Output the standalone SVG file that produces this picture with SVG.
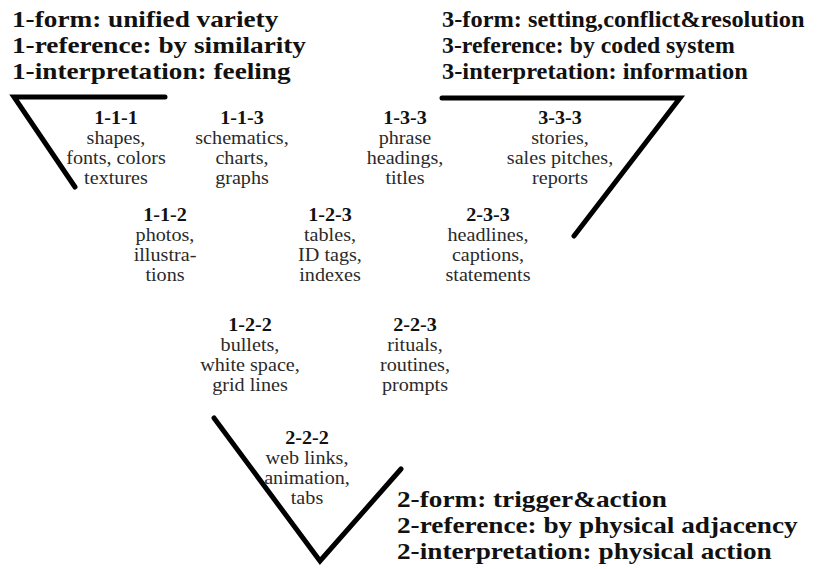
<svg xmlns="http://www.w3.org/2000/svg" width="820" height="569" viewBox="0 0 820 569">
  <style>
    .title { font-family: "Liberation Serif", serif; font-weight: bold; font-size: 23px; fill: #111; }
    .code { font-family: "Liberation Serif", serif; font-weight: bold; font-size: 18px; fill: #111; text-anchor: middle; }
    .body { font-family: "Liberation Serif", serif; font-size: 18px; fill: #2a2a2a; text-anchor: middle; }
    .edge { fill: none; stroke: #000; stroke-width: 5; stroke-linecap: round; stroke-linejoin: miter; }
  </style>
  <rect width="820" height="569" fill="#fff"/>

  <!-- corner strokes -->
  <g id="connectors">
    <polyline class="edge" points="165,97 14,97 75,187"/>
    <polyline class="edge" points="442,98 680,98 574,236"/>
    <polyline class="edge" points="214,418 320,561 401,469"/>
  </g>

  <!-- corner captions, set in a slightly widened serif -->
  <g id="corner-1" transform="translate(12,0) scale(1.185,1)">
    <text class="title" x="0" y="27">1-form: unified variety</text>
    <text class="title" x="0" y="53">1-reference: by similarity</text>
    <text class="title" x="0" y="79">1-interpretation: feeling</text>
  </g>
  <g id="corner-3" transform="translate(442,0) scale(1.185,1)">
    <text class="title" x="0" y="27" textLength="306" lengthAdjust="spacingAndGlyphs">3-form: setting,conflict&amp;resolution</text>
    <text class="title" x="0" y="53" textLength="247" lengthAdjust="spacingAndGlyphs">3-reference: by coded system</text>
    <text class="title" x="0" y="79" textLength="258" lengthAdjust="spacingAndGlyphs">3-interpretation: information</text>
  </g>
  <g id="corner-2" transform="translate(397,0) scale(1.185,1)">
    <text class="title" x="0" y="507">2-form: trigger&amp;action</text>
    <text class="title" x="0" y="533">2-reference: by physical adjacency</text>
    <text class="title" x="0" y="559">2-interpretation: physical action</text>
  </g>

  <!-- category nodes: code on top, examples below -->
  <g id="n111" transform="translate(116,0) scale(1.12,1)">
    <text class="code" x="0" y="124">1-1-1</text>
    <text class="body" x="0" y="144">shapes,</text>
    <text class="body" x="0" y="164">fonts, colors</text>
    <text class="body" x="0" y="184">textures</text>
  </g>
  <g id="n113" transform="translate(242,0) scale(1.12,1)">
    <text class="code" x="0" y="124">1-1-3</text>
    <text class="body" x="0" y="144">schematics,</text>
    <text class="body" x="0" y="164">charts,</text>
    <text class="body" x="0" y="184">graphs</text>
  </g>
  <g id="n133" transform="translate(405,0) scale(1.12,1)">
    <text class="code" x="0" y="124">1-3-3</text>
    <text class="body" x="0" y="144">phrase</text>
    <text class="body" x="0" y="164">headings,</text>
    <text class="body" x="0" y="184">titles</text>
  </g>
  <g id="n333" transform="translate(560,0) scale(1.12,1)">
    <text class="code" x="0" y="124">3-3-3</text>
    <text class="body" x="0" y="144">stories,</text>
    <text class="body" x="0" y="164">sales pitches,</text>
    <text class="body" x="0" y="184">reports</text>
  </g>
  <g id="n112" transform="translate(165,0) scale(1.12,1)">
    <text class="code" x="0" y="221">1-1-2</text>
    <text class="body" x="0" y="241">photos,</text>
    <text class="body" x="0" y="261">illustra-</text>
    <text class="body" x="0" y="281">tions</text>
  </g>
  <g id="n123" transform="translate(330,0) scale(1.12,1)">
    <text class="code" x="0" y="221">1-2-3</text>
    <text class="body" x="0" y="241">tables,</text>
    <text class="body" x="0" y="261">ID tags,</text>
    <text class="body" x="0" y="281">indexes</text>
  </g>
  <g id="n233" transform="translate(488,0) scale(1.12,1)">
    <text class="code" x="0" y="221">2-3-3</text>
    <text class="body" x="0" y="241">headlines,</text>
    <text class="body" x="0" y="261">captions,</text>
    <text class="body" x="0" y="281">statements</text>
  </g>
  <g id="n122" transform="translate(250,0) scale(1.12,1)">
    <text class="code" x="0" y="331">1-2-2</text>
    <text class="body" x="0" y="351">bullets,</text>
    <text class="body" x="0" y="371">white space,</text>
    <text class="body" x="0" y="391">grid lines</text>
  </g>
  <g id="n223" transform="translate(415,0) scale(1.12,1)">
    <text class="code" x="0" y="331">2-2-3</text>
    <text class="body" x="0" y="351">rituals,</text>
    <text class="body" x="0" y="371">routines,</text>
    <text class="body" x="0" y="391">prompts</text>
  </g>
  <g id="n222" transform="translate(307,0) scale(1.12,1)">
    <text class="code" x="0" y="444">2-2-2</text>
    <text class="body" x="0" y="464">web links,</text>
    <text class="body" x="0" y="484">animation,</text>
    <text class="body" x="0" y="504">tabs</text>
  </g>
</svg>
